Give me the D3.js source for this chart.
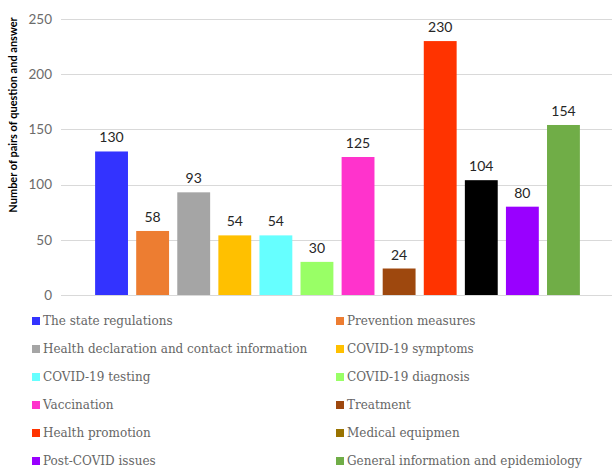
<!DOCTYPE html>
<html>
<head>
<meta charset="utf-8">
<script src="https://cdn.jsdelivr.net/npm/d3@7"></script>
<style>
  html, body { margin: 0; padding: 0; background: #fff; }
  svg { display: block; }
</style>
</head>
<body>
<svg id="chart" width="612" height="468"></svg>
<script>
// Topic categories and number of question–answer pairs per topic
const categories = [
  "The state regulations",
  "Prevention measures",
  "Health declaration and contact information",
  "COVID-19 symptoms",
  "COVID-19 testing",
  "COVID-19 diagnosis",
  "Vaccination",
  "Treatment",
  "Health promotion",
  "Medical equipmen",
  "Post-COVID issues",
  "General information and epidemiology"
];
const counts = [130, 58, 93, 54, 54, 30, 125, 24, 230, 104, 80, 154];
const barColors = ["#3333ff", "#ed7d31", "#a5a5a5", "#ffc000", "#66ffff", "#99ff66",
                   "#ff33cc", "#9e480e", "#ff3300", "#000000", "#9900ff", "#70ad47"];
const legendColors = ["#3333ff", "#ed7d31", "#a5a5a5", "#ffc000", "#66ffff", "#99ff66",
                      "#ff33cc", "#9e480e", "#ff3300", "#997300", "#9900ff", "#70ad47"];
const yTicks = [0, 50, 100, 150, 200, 250];
const yTitle = "Number of pairs of question and  answer";

const svg = d3.select("#chart");

const y = d3.scaleLinear().domain([0, 250]).range([295, 19]);
const x = d3.scaleBand().domain(categories).range([91, 584]).paddingInner(0.2).paddingOuter(0.1);

// Horizontal gridlines
svg.append("g").selectAll("line").data(yTicks).join("line")
  .attr("x1", 61).attr("x2", 612)
  .attr("y1", d => Math.round(y(d)) + 0.5).attr("y2", d => Math.round(y(d)) + 0.5)
  .attr("stroke", "#d9d9d9").attr("stroke-width", 1);

// Y axis tick labels
const yAxis = svg.append("g").attr("transform", "translate(52,0)")
  .call(d3.axisLeft(y).tickValues(yTicks).tickSize(0).tickPadding(0));
yAxis.select(".domain").remove();
yAxis.selectAll("text")
  .attr("font-family", "Lato, 'Open Sans', sans-serif")
  .attr("font-size", 13.5).attr("fill", "#6b6b6b");

// Y axis title
svg.append("text")
  .attr("transform", "translate(17,115) rotate(-90)")
  .attr("text-anchor", "middle")
  .attr("font-family", "Lato, 'Open Sans', sans-serif")
  .attr("font-weight", "bold").attr("font-size", 11).attr("fill", "#000")
  .text(yTitle);

// Bars
svg.append("g").selectAll("rect").data(categories).join("rect")
  .attr("x", d => x(d)).attr("width", x.bandwidth())
  .attr("y", (d, i) => y(counts[i]))
  .attr("height", (d, i) => y(0) - y(counts[i]))
  .attr("fill", (d, i) => barColors[i]);

// Value labels
svg.append("g").selectAll("text").data(categories).join("text")
  .attr("x", d => x(d) + x.bandwidth() / 2)
  .attr("y", (d, i) => y(counts[i]) - 9)
  .attr("text-anchor", "middle")
  .attr("font-family", "Lato, 'Open Sans', sans-serif")
  .attr("font-size", 14).attr("fill", "#262626")
  .text((d, i) => counts[i]);

// Legend in two columns
const legend = svg.append("g").selectAll("g").data(categories).join("g")
  .attr("transform", (d, i) => `translate(${i % 2 === 0 ? 32 : 336},${321 + Math.floor(i / 2) * 28})`);
legend.append("rect")
  .attr("x", 0).attr("y", -4).attr("width", 8).attr("height", 8)
  .attr("fill", (d, i) => legendColors[i]);
legend.append("text")
  .attr("x", 11).attr("y", 0).attr("dy", "0.35em")
  .attr("font-family", "'DejaVu Serif', 'Liberation Serif', serif")
  .attr("font-size", 12).attr("fill", "#666666")
  .text(d => d);
</script>
</body>
</html>
